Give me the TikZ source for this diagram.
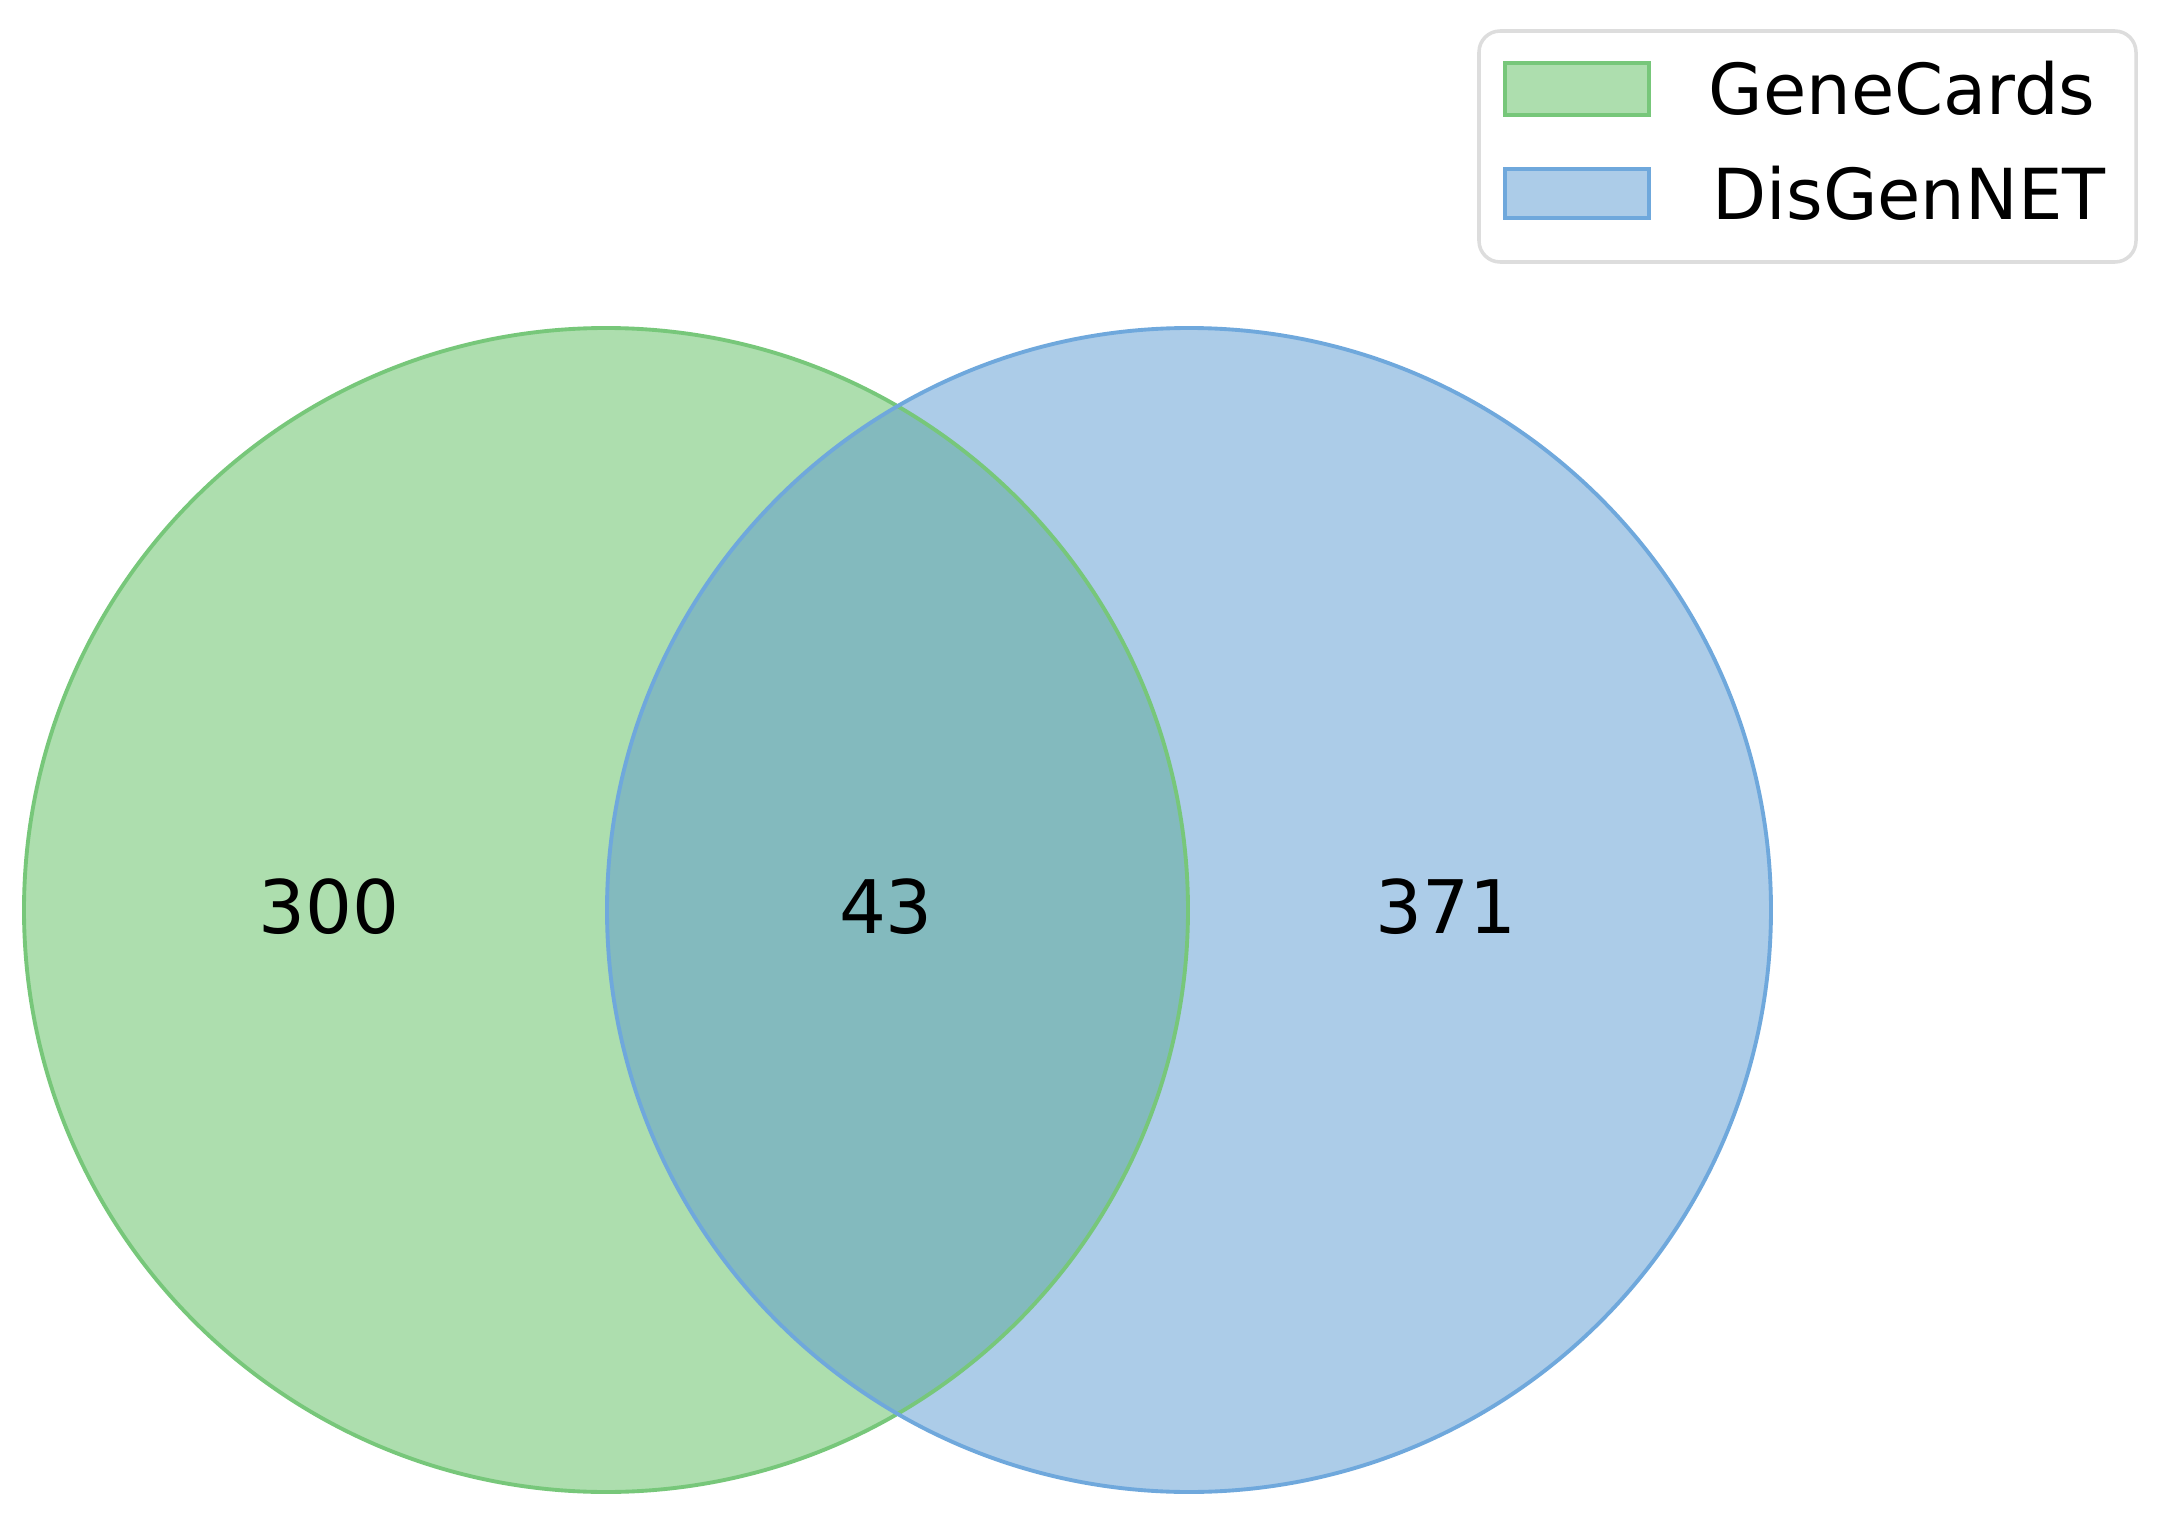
\documentclass[tikz,border=0pt]{standalone}
\usepackage{fontspec}
\setmainfont{DejaVu Sans}
\definecolor{gfill}{HTML}{ADDEAE}
\definecolor{gline}{HTML}{77C77A}
\definecolor{bfill}{HTML}{ACCCE8}
\definecolor{bline}{HTML}{6FA8DC}
\definecolor{ofill}{HTML}{83BABE}
\definecolor{lgray}{HTML}{DDDDDD}
\begin{document}
\begin{tikzpicture}[x=0.01cm,y=-0.01cm,
  num/.style={font=\fontsize{21}{25}\selectfont,text=black,inner sep=0pt},
  legtext/.style={font=\fontsize{20}{24}\selectfont,text=black,anchor=west,inner sep=0pt},
  patch/.style={draw=#1,line width=1.2pt}]
\useasboundingbox (0,0) rectangle (2165,1521);
\fill[white] (0,0) rectangle (2165,1521);
% circles
\fill[gfill] (606,910) circle (582);
\fill[bfill] (1189,910) circle (582);
\begin{scope}
  \clip (606,910) circle (582);
  \fill[ofill] (1189,910) circle (582);
\end{scope}
\draw[gline,line width=1.1pt] (606,910) circle (582);
\draw[bline,line width=1.1pt] (1189,910) circle (582);
\node[num] (a) at (329,907) {300};
\node[num] (ab) at (886,907) {43};
\node[num] (b) at (1446,907) {371};
% legend
\draw[lgray,fill=white,line width=1pt,rounded corners=6pt] (1479,31) rectangle (2136,262);
\fill[gfill,patch=gline] (1505,63) rectangle (1649,115);
\fill[bfill,patch=bline] (1505,169) rectangle (1649,218);
\node[legtext] (l1) at (1708,88) {GeneCards};
\node[legtext] (l2) at (1712,193) {DisGenNET};
\end{tikzpicture}
\end{document}
